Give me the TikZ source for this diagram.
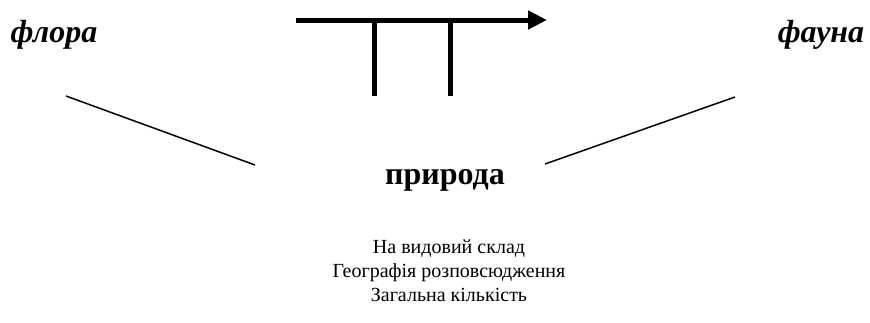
\documentclass[tikz,border=0pt]{standalone}
\usepackage{fontspec}
\setmainfont{Liberation Serif}
\usetikzlibrary{arrows.meta}
\tikzset{
  title/.style={font=\fontsize{32}{34}\selectfont\bfseries\itshape, inner sep=0pt, anchor=base},
  center/.style={font=\fontsize{32}{34}\selectfont\bfseries, inner sep=0pt, anchor=base},
  listtext/.style={font=\fontsize{20}{24}\selectfont, align=center, inner sep=0pt, anchor=base},
  thick bar/.style={line width=5pt},
  thin/.style={line width=1.5pt},
}
\begin{document}
\begin{tikzpicture}[x=1pt,y=-1pt]
\useasboundingbox (0,0) rectangle (870,322);
\node[title] (flora) at (54,42) {флора};
\node[title] (fauna) at (821,42) {фауна};
\node[center] (pryroda) at (445,184) {природа};
\node[listtext] (list1) at (449,253) {На видовий склад};
\node[listtext] (list2) at (449,277) {Географія розповсюдження};
\node[listtext] (list3) at (449,301) {Загальна кількість};
\coordinate (a0) at (296,20);
\coordinate (a1) at (547,20);
\coordinate (t1) at (374,20);
\coordinate (b1) at (374,96);
\coordinate (t2) at (450,20);
\coordinate (b2) at (450,96);
\coordinate (l0) at (66,96);
\coordinate (l1) at (255,165);
\coordinate (r0) at (545,164);
\coordinate (r1) at (735,97);
\draw[thick bar, -{Triangle[length=19pt,width=18pt]}] (a0) -- (a1);
\draw[thick bar] (t1) -- (b1);
\draw[thick bar] (t2) -- (b2);
\draw[thin] (l0) -- (l1);
\draw[thin] (r0) -- (r1);
\end{tikzpicture}
\end{document}
